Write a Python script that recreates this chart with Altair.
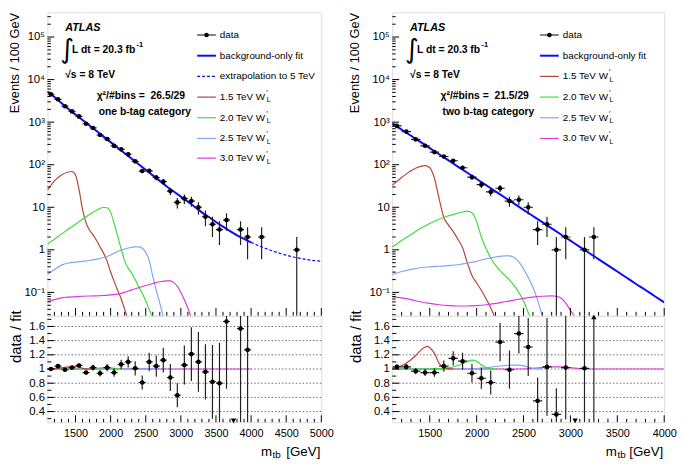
import altair as alt
import pandas as pd

FONT = "Liberation Sans"
BLACK = "#000000"
FIT_BLUE = "#0a0aff"
C15, C20, C25, C30 = "#b5453c", "#3ddc3d", "#7fa6f5", "#dc3adc"

W_L, W_R = 278, 276
H_TOP, H_RAT = 308, 108
YMIN, YMAX = 0.0282, 3.8e5
RMIN, RMAX = 0.25, 1.75

# ---------------- one b-tag category (left) ----------------
L_x = [1150, 1250, 1350, 1450, 1550, 1650, 1750, 1850, 1950, 2050, 2150, 2250, 2350, 2450, 2550,
       2650, 2750, 2850, 2950, 3050, 3150, 3250, 3350, 3450, 3550, 3650, 3850, 3950, 4150, 4650]
L_n = [4520, 3440, 2370, 1790, 1365, 917, 731, 499, 402, 277, 230, 176, 120, 71, 72,
       50, 40, 24, 13, 16, 14, 10, 6, 4, 3, 5, 3, 2, 2, 1]
L_err = [67, 59, 49, 42, 37, 30, 27, 22, 20, 16.6, 15.2, 13.3, 11, 8.4, 8.5,
         7.1, 6.3, 4.9, 3.6, 4, 3.7, 3.2, 2.4, 2, 1.7, 2.2, 1.7, 1.4, 1.4, 1]
L_fit_x = [1100, 1200, 1300, 1400, 1500, 1600, 1700, 1800, 1900, 2000, 2100, 2200, 2300, 2400, 2500,
           2600, 2700, 2800, 2900, 3000, 3100, 3200, 3300, 3400, 3500, 3600, 3700, 3800, 3900, 4000]
L_fit_y = [5250, 3890, 2820, 2040, 1510, 1120, 832, 617, 457, 339, 251, 186, 138, 102, 75.9,
           56.2, 41.7, 30.9, 23.4, 17.8, 13.5, 10.2, 7.6, 5.9, 4.5, 3.5, 2.75, 2.2, 1.8, 1.5]
L_ext_x = [4000, 4100, 4200, 4300, 4400, 4500, 4600, 4700, 4800, 4900, 5000]
L_ext_y = [1.5, 1.27, 1.09, 0.95, 0.84, 0.75, 0.68, 0.63, 0.59, 0.56, 0.54]

L_s15_x = [1100, 1200, 1300, 1400, 1450, 1500, 1550, 1600, 1650, 1700, 1750, 1800, 1850, 1900, 1950,
           2000, 2050, 2100, 2150, 2200, 2250]
L_s15_y = [25.1, 41.7, 57.5, 67.6, 69.2, 57.5, 26.3, 8.91, 4.37, 2.88, 2.24, 1.66, 1.17, 0.832, 0.537,
           0.302, 0.182, 0.112, 0.0708, 0.0398, 0.0224]
L_s20_x = [1100, 1200, 1300, 1400, 1500, 1600, 1700, 1800, 1900, 1950, 2000, 2050, 2100, 2150, 2200,
           2250, 2300, 2350, 2400, 2450, 2500, 2550, 2600]
L_s20_y = [1.35, 1.78, 2.34, 3.09, 3.98, 5.25, 6.76, 8.51, 10.0, 9.77, 7.59, 4.17, 2.09, 1.05, 0.550,
           0.372, 0.282, 0.200, 0.135, 0.0955, 0.0631, 0.0398, 0.0240]
L_s25_x = [1100, 1200, 1300, 1400, 1500, 1600, 1700, 1800, 1900, 2000, 2100, 2200, 2300, 2350, 2400,
           2450, 2500, 2550, 2600, 2650, 2700, 2750]
L_s25_y = [0.263, 0.347, 0.437, 0.490, 0.513, 0.537, 0.562, 0.603, 0.661, 0.759, 0.912, 1.047, 1.148,
           1.175, 1.175, 1.096, 0.871, 0.562, 0.240, 0.112, 0.0562, 0.0269]
L_s30_x = [1100, 1200, 1300, 1400, 1600, 1800, 2000, 2100, 2200, 2300, 2400, 2500, 2600, 2700, 2800,
           2850, 2900, 2950, 3000, 3050, 3100, 3150]
L_s30_y = [0.0603, 0.0676, 0.0741, 0.0776, 0.0813, 0.0832, 0.0871, 0.0912, 0.100, 0.115, 0.129, 0.145,
           0.162, 0.178, 0.186, 0.186, 0.170, 0.138, 0.100, 0.0676, 0.0427, 0.0251]

L_rx = [1150, 1250, 1350, 1450, 1550, 1650, 1750, 1850, 1950, 2050, 2150, 2250, 2350, 2450, 2550,
        2650, 2750, 2850, 2950, 3050, 3150, 3250, 3350, 3450, 3550, 3650, 3850, 3950]
L_r = [1.00, 1.04, 0.99, 1.02, 1.05, 0.95, 1.02, 0.94, 1.02, 0.95, 1.065, 1.10, 1.01, 0.81, 1.10,
       1.04, 1.125, 0.88, 0.63, 1.055, 1.21, 1.10, 0.96, 0.82, 0.80, 1.67, 1.57, 1.27]
L_rlo = [0.98, 1.02, 0.965, 0.995, 1.02, 0.92, 0.98, 0.895, 0.97, 0.89, 1.0, 1.02, 0.91, 0.71, 0.97,
         0.89, 0.95, 0.69, 0.46, 0.78, 0.83, 0.68, 0.57, 0.30, 0.25, 0.72, 0.25, 0.25]
L_rhi = [1.02, 1.06, 1.015, 1.045, 1.08, 0.98, 1.06, 0.985, 1.07, 1.01, 1.13, 1.18, 1.11, 0.91, 1.23,
         1.19, 1.30, 1.07, 0.80, 1.33, 1.59, 1.52, 1.35, 1.34, 1.37, 1.75, 1.75, 1.75]
L_down_x, L_down_y = [3750], [0.27]

L_r15_x = [1100, 1300, 1400, 1450, 1500, 1550, 1600, 1700, 1750]
L_r15_y = [1.00, 1.015, 1.03, 1.035, 1.035, 1.03, 1.01, 1.0, 1.0]
L_r20_x = [1100, 1700, 1800, 1900, 1950, 2000, 2100, 2150]
L_r20_y = [1.0, 1.0, 1.01, 1.02, 1.02, 1.015, 1.005, 1.0]
L_r25_x = [1100, 2200, 2350, 2450, 2550, 2750]
L_r25_y = [1.0, 1.0, 1.005, 1.005, 1.0, 1.0]
L_r30_x = [1100, 4000]
L_r30_y = [1.0, 1.0]

# ---------------- two b-tag category (right) ----------------
R_x = [1150, 1250, 1350, 1450, 1550, 1650, 1750, 1850, 1950, 2050, 2150, 2250, 2350, 2450, 2550,
       2650, 2750, 2850, 2950, 3150, 3250]
R_n = [815, 600, 395, 278, 198, 156, 124, 85, 51, 34, 23, 28, 14, 15, 10, 3, 4, 1, 2, 1, 2]
R_err = [28.5, 24.5, 19.9, 16.7, 14.1, 12.5, 11.1, 9.2, 7.1, 5.8, 4.8, 5.3, 3.7, 3.9, 3.2,
         1.7, 2, 1, 1.4, 1, 1.4]
R_fit_x = L_fit_x
R_fit_y = [933, 668, 479, 343, 245, 176, 126, 90.2, 64.6, 46.2, 33.1, 23.7, 17.0, 12.2, 8.71,
           6.24, 4.47, 3.20, 2.29, 1.64, 1.17, 0.841, 0.603, 0.432, 0.309, 0.221, 0.158, 0.114,
           0.0813, 0.0582]

R_s15_x = [1100, 1200, 1300, 1400, 1450, 1500, 1550, 1600, 1650, 1700, 1750, 1800, 1850, 1900, 1950,
           2000, 2050, 2100, 2150, 2200]
R_s15_y = [32.7, 50.1, 72.4, 91.2, 95.5, 85.1, 47.9, 15.8, 5.75, 3.80, 2.69, 1.78, 1.12, 0.501, 0.251,
           0.166, 0.112, 0.0708, 0.0437, 0.0240]
R_s20_x = [1100, 1200, 1300, 1400, 1500, 1600, 1700, 1800, 1850, 1900, 1950, 2000, 2050, 2100, 2150,
           2200, 2250, 2300, 2350, 2400, 2450, 2500, 2550, 2600]
R_s20_y = [1.167, 1.66, 2.29, 3.16, 4.17, 5.25, 6.31, 7.24, 7.76, 8.13, 7.41, 4.57, 2.00, 1.07, 0.646,
           0.437, 0.324, 0.251, 0.195, 0.145, 0.100, 0.0631, 0.0339, 0.0200]
R_s25_x = [1100, 1200, 1300, 1400, 1500, 1600, 1700, 1800, 1900, 2000, 2100, 2200, 2300, 2350, 2400,
           2450, 2500, 2550, 2600, 2650, 2700]
R_s25_y = [0.263, 0.309, 0.347, 0.380, 0.398, 0.412, 0.427, 0.447, 0.490, 0.537, 0.617, 0.676, 0.724,
           0.724, 0.661, 0.525, 0.355, 0.224, 0.132, 0.0661, 0.0282]
R_s30_x = [1100, 1200, 1300, 1400, 1500, 1600, 1700, 1800, 1900, 2000, 2100, 2200, 2300, 2400, 2500,
           2600, 2700, 2800, 2850, 2900, 2950, 3000, 3050]
R_s30_y = [0.0794, 0.0741, 0.0676, 0.0603, 0.0550, 0.0513, 0.0490, 0.0479, 0.0479, 0.0490, 0.0513,
           0.0550, 0.0603, 0.0661, 0.0724, 0.0776, 0.0813, 0.0832, 0.0813, 0.0741, 0.0562, 0.0380,
           0.0263]

R_rx = [1150, 1250, 1350, 1450, 1550, 1650, 1750, 1850, 1950, 2050, 2150, 2250, 2350, 2450, 2550,
        2650, 2750, 2850, 2950, 3150]
R_r = [1.03, 1.03, 0.97, 0.95, 0.95, 1.04, 1.15, 1.11, 0.94, 0.87, 0.81, 1.38, 0.99, 1.50, 1.31,
       0.55, 1.03, 0.36, 1.02, 1.01]
R_rlo = [0.995, 0.99, 0.925, 0.90, 0.89, 0.96, 1.05, 0.99, 0.81, 0.72, 0.64, 1.11, 0.72, 1.22, 0.90,
         0.25, 0.34, 0.25, 0.29, 0.25]
R_rhi = [1.065, 1.07, 1.015, 1.00, 1.01, 1.12, 1.25, 1.23, 1.07, 1.02, 0.98, 1.65, 1.26, 1.75, 1.72,
         0.88, 1.72, 0.73, 1.75, 1.75]
R_down_x, R_down_y = [3050], [0.27]
R_up_x, R_up_y, R_up_lo = [3250], [1.735], [0.25]

R_r15_x = [1100, 1200, 1300, 1350, 1400, 1450, 1475, 1500, 1550, 1600, 1650, 1700, 1750]
R_r15_y = [1.01, 1.045, 1.13, 1.19, 1.26, 1.31, 1.32, 1.30, 1.22, 1.08, 1.025, 1.005, 1.0]
R_r20_x = [1100, 1400, 1600, 1700, 1800, 1850, 1900, 1950, 2000, 2050, 2100, 2150, 2200]
R_r20_y = [1.0, 1.0, 1.005, 1.015, 1.05, 1.075, 1.105, 1.125, 1.11, 1.06, 1.02, 1.005, 1.0]
R_r25_x = [1100, 1900, 2000, 2100, 2200, 2300, 2400, 2450, 2500, 2600, 2700]
R_r25_y = [1.0, 1.0, 1.005, 1.015, 1.035, 1.05, 1.055, 1.055, 1.045, 1.01, 1.0]
R_r30_x = [1100, 2500, 2600, 2700, 2800, 2900, 3000, 3100, 3200, 4000]
R_r30_y = [1.0, 1.0, 1.01, 1.02, 1.03, 1.03, 1.02, 1.005, 1.0, 1.0]

# ---------------- tick positions ----------------
Y_MAJ = [0.1, 1, 10, 100, 1000, 10000, 100000]
Y_MIN = [k * 10.0 ** e for e in range(-2, 6) for k in range(2, 10) if YMIN < k * 10.0 ** e < YMAX]
R_MAJ = [0.4, 0.6, 0.8, 1.0, 1.2, 1.4, 1.6]
R_MINR = [0.3, 0.5, 0.7, 0.9, 1.1, 1.3, 1.5, 1.7]
L_XMAJ = [1500, 2000, 2500, 3000, 3500, 4000, 4500, 5000]
L_XMIN = [v for v in range(1200, 5000, 100) if v % 500]
R_XMAJ = [1500, 2000, 2500, 3000, 3500, 4000]
R_XMIN = [v for v in range(1200, 4000, 100) if v % 500]

one = pd.DataFrame({"o": [0]})
YS = alt.Scale(type="log", domain=[YMIN, YMAX], nice=False)
RS = alt.Scale(domain=[RMIN, RMAX], nice=False, zero=False)


def xscale(xmax):
    return alt.Scale(domain=[1100, xmax], nice=False, zero=False)


def text(x, y, s, size=10, weight="normal", style="normal", align="left", font=FONT):
    return alt.Chart(one).mark_text(
        text=s, fontSize=size, fontWeight=weight, fontStyle=style, align=align,
        baseline="middle", font=font, color=BLACK
    ).encode(x=alt.value(x), y=alt.value(y))


def hseg(x1, x2, y, color, width, dash=None):
    kw = dict(color=color, strokeWidth=width)
    if dash is not None:
        kw["strokeDash"] = dash
    return alt.Chart(one).mark_rule(**kw).encode(x=alt.value(x1), x2=alt.value(x2), y=alt.value(y))


def dot(x, y):
    return alt.Chart(one).mark_point(filled=True, size=22, color=BLACK, opacity=1).encode(
        x=alt.value(x), y=alt.value(y))


class Ax:
    """Holds the scales and axes shared by every layer of one panel."""
    def __init__(self, xsc, ysc, xaxis, yaxis):
        self.xsc, self.ysc, self.xaxis, self.yaxis = xsc, ysc, xaxis, yaxis

    def X(self, f):
        return alt.X(f, type="quantitative", scale=self.xsc, axis=self.xaxis)

    def Y(self, f):
        return alt.Y(f, type="quantitative", scale=self.ysc, axis=self.yaxis)


def curve(A, xv, yv, color, width, dash=None):
    df = pd.DataFrame({"x": xv, "y": yv})
    kw = dict(color=color, strokeWidth=width, clip=True, interpolate="monotone")
    if dash is not None:
        kw["strokeDash"] = dash
    return alt.Chart(df).mark_line(**kw).encode(x=A.X("x"), y=A.Y("y"))


def data_layers(A, xv, yv, lo, hi):
    df = pd.DataFrame({"x": xv, "y": yv, "lo": lo, "hi": hi,
                       "x0": [v - 50 for v in xv], "x1": [v + 50 for v in xv]})
    vbar = alt.Chart(df).mark_rule(color="#222222", strokeWidth=1.2, clip=True).encode(
        x=A.X("x"), y=A.Y("lo"), y2="hi:Q")
    hbar = alt.Chart(df).mark_rule(color="#222222", strokeWidth=1.2, clip=True).encode(
        x=A.X("x0"), x2="x1:Q", y=A.Y("y"))
    pts = alt.Chart(df).mark_point(filled=True, size=22, color=BLACK, opacity=1, clip=True).encode(
        x=A.X("x"), y=A.Y("y"))
    return [vbar, hbar, pts]


def xticks(A, vals, H, length):
    df = pd.DataFrame({"v": vals})
    return alt.Chart(df).mark_rule(color=BLACK, strokeWidth=1).encode(
        x=A.X("v"), y=alt.value(H), y2=alt.value(H - length))


def yticks(A, vals, length):
    df = pd.DataFrame({"v": vals})
    return alt.Chart(df).mark_rule(color=BLACK, strokeWidth=1).encode(
        y=A.Y("v"), x=alt.value(0), x2=alt.value(length))


def top_yaxis(tx):
    return alt.Axis(
        values=Y_MAJ,
        labelExpr="datum.value > 50000 ? '10⁵' : datum.value > 5000 ? '10⁴' : datum.value > 500 ? '10³'"
                  " : datum.value > 50 ? '10²' : datum.value > 5 ? '10' : datum.value > 0.5 ? '1' : '10⁻¹'",
        ticks=False, domain=False, grid=False, labelPadding=3, labelFont=FONT, labelFontSize=11.5,
        labelColor=BLACK, title="Events / 100 GeV", titleFont=FONT, titleFontSize=13,
        titleFontWeight="normal", titleColor=BLACK, titleAngle=270, titleAlign="right",
        titleBaseline="middle", titleX=tx, titleY=0)


def rat_yaxis(tx):
    return alt.Axis(
        values=R_MAJ, labelExpr="datum.value == 1 ? '1' : format(datum.value, '.1f')",
        ticks=False, domain=False, grid=False, labelPadding=3, labelFont=FONT, labelFontSize=11.5,
        labelColor=BLACK, title="data / fit", titleFont=FONT, titleFontSize=15,
        titleFontWeight="normal", titleColor=BLACK, titleAngle=270, titleAlign="right",
        titleBaseline="middle", titleX=tx, titleY=-6)


def rat_xaxis(vals):
    return alt.Axis(values=vals, format="d", ticks=False, domain=False, grid=False, labelPadding=5,
                    labelFont=FONT, labelFontSize=11, labelColor=BLACK, labelFlush=False, title=None)


def wlabel(x, y, s):
    return [text(x, y, s + " W", 10), text(x + 47, y - 4, "′", 8), text(x + 47.5, y + 3.5, "L", 7)]


def top_panel(W, xmax, xv, n, err, fit_x, fit_y, sigs, legend, lx, chi, cat, tx, ext=None):
    A = Ax(xscale(xmax), YS, None, top_yaxis(tx))
    lo = [max(a - b, YMIN * 0.5) for a, b in zip(n, err)]
    hi = [a + b for a, b in zip(n, err)]
    layers = []
    for sx, sy, col in sigs:
        layers.append(curve(A, sx, sy, col, 1.2))
    layers.append(curve(A, fit_x, fit_y, FIT_BLUE, 2))
    if ext is not None:
        layers.append(curve(A, ext[0], ext[1], FIT_BLUE, 1.2, dash=[3, 2]))
    layers += data_layers(A, xv, n, lo, hi)
    xmaj = L_XMAJ if xmax == 5000 else R_XMAJ
    xmin = L_XMIN if xmax == 5000 else R_XMIN
    layers += [xticks(A, xmaj, H_TOP, 8), xticks(A, xmin, H_TOP, 4),
               yticks(A, Y_MAJ, 7), yticks(A, Y_MIN, 3.5)]
    rows = [23, 44, 65, 86, 107, 128, 148]
    for i, (kind, label, col) in enumerate(legend):
        y = rows[i]
        if kind == "data":
            layers += [hseg(lx, lx + 19, y, BLACK, 1), dot(lx + 9.5, y), text(lx + 23, y, label, 10)]
        elif kind == "fit":
            layers += [hseg(lx, lx + 19, y, FIT_BLUE, 2), text(lx + 23, y, label, 10)]
        elif kind == "ext":
            layers += [hseg(lx, lx + 19, y, FIT_BLUE, 1.2, [3, 2]), text(lx + 23, y, label, 10)]
        else:
            layers += [hseg(lx, lx + 19, y, col, 1.2)] + wlabel(lx + 23, y, label)
    layers += [
        text(18, 16, "ATLAS", 11, "bold", "italic"),
        text(20, 38, "∫", 27, "normal", align="center", font="DejaVu Sans"),
        text(25, 38, "L dt = 20.3 fb", 10.5, "bold"),
        text(90.5, 33, "-1", 7.5, "bold"),
        text(18, 64, "√s = 8 TeV", 10.5, "bold"),
        text(chi, 85, "χ²/#bins =\u00a0 " + cat[0], 10.5, "bold"),
        text(chi + 2, 101, cat[1], 10.5, "bold"),
    ]
    return alt.layer(*layers).properties(width=W, height=H_TOP)


def rat_panel(W, xmax, rx, r, rlo, rhi, rsigs, down, up, tx):
    xmaj = L_XMAJ if xmax == 5000 else R_XMAJ
    xmin = L_XMIN if xmax == 5000 else R_XMIN
    A = Ax(xscale(xmax), RS, rat_xaxis(xmaj), rat_yaxis(tx))
    grid = pd.DataFrame({"v": R_MAJ})
    layers = [alt.Chart(grid).mark_rule(color="#444444", strokeWidth=0.8, strokeDash=[1.5, 2]).encode(
        y=A.Y("v"), x=alt.value(0), x2=alt.value(W))]
    for sx, sy, col in rsigs:
        layers.append(curve(A, sx, sy, col, 1.2))
    layers += data_layers(A, rx, r, rlo, rhi)
    dfd = pd.DataFrame({"x": down[0], "y": down[1]})
    layers.append(alt.Chart(dfd).mark_point(shape="triangle-down", filled=True, size=30, color=BLACK,
                                            opacity=1).encode(x=A.X("x"), y=A.Y("y")))
    if up is not None:
        dfu = pd.DataFrame({"x": up[0], "y": up[1], "lo": up[2]})
        layers.append(alt.Chart(dfu).mark_rule(color="#222222", strokeWidth=1.2).encode(
            x=A.X("x"), y=A.Y("lo"), y2="y:Q"))
        layers.append(alt.Chart(dfu).mark_point(shape="triangle-up", filled=True, size=30, color=BLACK,
                                                opacity=1).encode(x=A.X("x"), y=A.Y("y")))
    layers += [xticks(A, xmaj, H_RAT, 7), xticks(A, xmin, H_RAT, 3.5),
               yticks(A, R_MAJ, 7), yticks(A, R_MINR, 4)]
    layers += [text(228, 138, "m", 13.5, align="right"), text(228.5, 141.5, "tb", 10),
               text(W - 1, 138, "[GeV]", 13.5, align="right")]
    return alt.layer(*layers).properties(width=W, height=H_RAT)


legend_L = [("data", "data", None), ("fit", "background-only fit", None),
            ("ext", "extrapolation to 5 TeV", None), ("sig", "1.5 TeV", C15),
            ("sig", "2.0 TeV", C20), ("sig", "2.5 TeV", C25), ("sig", "3.0 TeV", C30)]
legend_R = [("data", "data", None), ("fit", "background-only fit", None), ("sig", "1.5 TeV", C15),
            ("sig", "2.0 TeV", C20), ("sig", "2.5 TeV", C25), ("sig", "3.0 TeV", C30)]

top_L = top_panel(W_L, 5000, L_x, L_n, L_err, L_fit_x, L_fit_y,
                  [(L_s15_x, L_s15_y, C15), (L_s20_x, L_s20_y, C20), (L_s25_x, L_s25_y, C25),
                   (L_s30_x, L_s30_y, C30)],
                  legend_L, 152, 50, ("26.5/29", "one b-tag category"), -33.5, ext=(L_ext_x, L_ext_y))
top_R = top_panel(W_R, 4000, R_x, R_n, R_err, R_fit_x, R_fit_y,
                  [(R_s15_x, R_s15_y, C15), (R_s20_x, R_s20_y, C20), (R_s25_x, R_s25_y, C25),
                   (R_s30_x, R_s30_y, C30)],
                  legend_R, 150, 49, ("21.5/29", "two b-tag category"), -38)
rat_L = rat_panel(W_L, 5000, L_rx, L_r, L_rlo, L_rhi,
                  [(L_r30_x, L_r30_y, C30), (L_r25_x, L_r25_y, C25), (L_r20_x, L_r20_y, C20),
                   (L_r15_x, L_r15_y, C15)],
                  (L_down_x, L_down_y), None, -32.5)
rat_R = rat_panel(W_R, 4000, R_rx, R_r, R_rlo, R_rhi,
                  [(R_r30_x, R_r30_y, C30), (R_r25_x, R_r25_y, C25), (R_r20_x, R_r20_y, C20),
                   (R_r15_x, R_r15_y, C15)],
                  (R_down_x, R_down_y), (R_up_x, R_up_y, R_up_lo), -37)

chart = alt.concat(top_L, top_R, rat_L, rat_R, columns=2, spacing={"row": 0, "column": 72},
                   bounds="flush").properties(
    padding={"left": 0, "top": 0, "right": 0, "bottom": 0}
).configure_view(stroke=BLACK, strokeWidth=1).configure(font=FONT)

chart.save("out.html", embed_options={"renderer": "svg", "actions": False})
